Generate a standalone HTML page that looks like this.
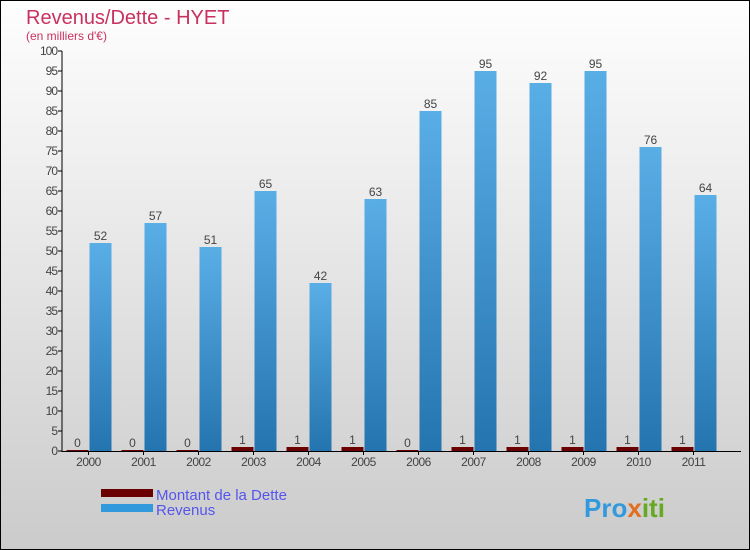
<!DOCTYPE html>
<html><head><meta charset="utf-8"><style>
body{margin:0}
#c{position:relative;width:748px;height:548px;border:1px solid #000;background:linear-gradient(#fefefe,#cbcbcb);font-family:"Liberation Sans",sans-serif;overflow:hidden}
</style></head><body>
<div id="c">
<svg id="s" width="748" height="548" style="position:absolute;left:0;top:0">
<defs><linearGradient id="rg" x1="0" y1="0" x2="0" y2="1"><stop offset="0" stop-color="#5aaee6"/><stop offset="1" stop-color="#2474b0"/></linearGradient></defs>
<text x="25" y="23" font-size="20" fill="#c8325f">Revenus/Dette - HYET</text>
<text x="25" y="39" font-size="12" fill="#c8325f">(en milliers d'€)</text>
<g id="g"></g>
<rect x="100" y="488" width="52" height="8" fill="#6b0000"/>
<text x="155" y="499" font-size="15" fill="#5555ee">Montant de la Dette</text>
<rect x="100" y="503" width="52" height="8" fill="#3399dd"/>
<text x="155" y="514" font-size="15" fill="#5555ee">Revenus</text>
<text x="583" y="516" font-size="26" font-weight="bold" fill="#3399dd">Pro<tspan fill="#e07020">x</tspan><tspan fill="#66aa22">iti</tspan></text>
</svg>
</div>
<script>
const years=["2000","2001","2002","2003","2004","2005","2006","2007","2008","2009","2010","2011"];
const debt=[0,0,0,1,1,1,0,1,1,1,1,1];
const revenue=[52,57,51,65,42,63,85,95,92,95,76,64];
const yTicks=[0,5,10,15,20,25,30,35,40,45,50,55,60,65,70,75,80,85,90,95,100];
const NS="http://www.w3.org/2000/svg";
const g=document.getElementById('g');
const y=v=>450-v*4;
const xc=i=>87.5+i*55;
function mk(t,a,txt){const e=document.createElementNS(NS,t);for(const k in a)e.setAttribute(k,a[k]);if(txt!=null)e.textContent=txt;g.appendChild(e);return e;}
yTicks.forEach(t=>{
 const l=mk('line',{x1:57,x2:61,y1:y(t),y2:y(t),stroke:'#000'});
 
 
 const tx=mk('text',{x:56,y:y(t)+4,'font-size':12,'text-anchor':'end',fill:'#444','letter-spacing':'-1'},t);
 
 
});
years.forEach((yr,i)=>{
 const c=xc(i);
 const dh=Math.max(debt[i]*4,1);
 const d=mk('rect',{x:c-22,y:450-dh,width:22,height:dh,fill:'#6b0000'});
 
 
 const dl=mk('text',{x:c-11,y:450-dh-3,'font-size':12,'text-anchor':'middle',fill:'#444'},debt[i]);
 
 
 const r=mk('rect',{x:c+1,y:y(revenue[i]),width:22,height:revenue[i]*4,fill:'url(#rg)'});
 
 
 const rl=mk('text',{x:c+12,y:y(revenue[i])-3,'font-size':12,'text-anchor':'middle',fill:'#444'},revenue[i]);
 
 
 const tk=mk('line',{x1:c,x2:c,y1:450,y2:454,stroke:'#000'});
 
 
 const xl=mk('text',{x:c,y:465,'font-size':12,'text-anchor':'middle',fill:'#444','letter-spacing':'-0.5'},yr);
 
 
});
const ya=mk('line',{x1:61,x2:61,y1:50,y2:451,stroke:'#000'});


const xa=mk('line',{x1:61,x2:740,y1:450.5,y2:450.5,stroke:'#000'});


</script>
</body></html>
